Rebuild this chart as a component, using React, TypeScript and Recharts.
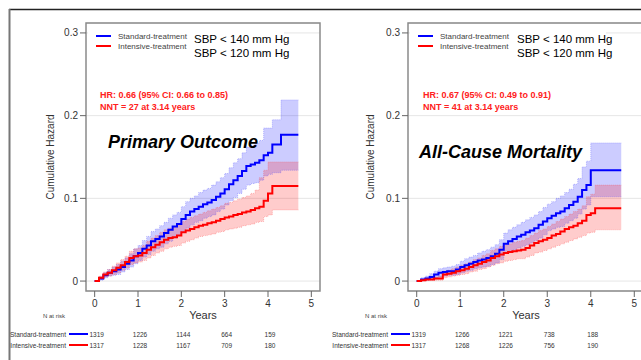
import React from "react";
import {
  Area,
  CartesianGrid,
  ComposedChart,
  Line,
  ReferenceArea,
  XAxis,
  YAxis,
} from "recharts";

const FONT = "'Liberation Sans', Arial, sans-serif";

// follow-up time grid (years)
const years = [
  0, 0.1, 0.2, 0.3, 0.4, 0.5, 0.6, 0.7, 0.8, 0.9, 1.0, 1.1, 1.2, 1.3, 1.4, 1.5,
  1.6, 1.7, 1.8, 1.9, 2.0, 2.1, 2.2, 2.3, 2.4, 2.5, 2.6, 2.7, 2.8, 2.9, 3.0, 3.1,
  3.2, 3.3, 3.4, 3.5, 3.6, 3.7, 3.8, 3.9, 4.0, 4.1, 4.2, 4.3, 4.4, 4.5, 4.6, 4.7,
];

// Primary outcome
const primaryStd = [
  0, 0.003, 0.007, 0.01, 0.012, 0.014, 0.017, 0.021, 0.025, 0.03, 0.034, 0.039,
  0.043, 0.048, 0.051, 0.054, 0.058, 0.062, 0.066, 0.069, 0.075, 0.08, 0.084,
  0.087, 0.09, 0.093, 0.095, 0.098, 0.102, 0.106, 0.111, 0.117, 0.122, 0.127,
  0.133, 0.139, 0.141, 0.143, 0.146, 0.152, 0.155, 0.165, 0.165, 0.177, 0.177,
  0.177, 0.177, 0.177,
];
const primaryStdLow = [
  0, 0.001, 0.004, 0.006, 0.007, 0.008, 0.011, 0.014, 0.017, 0.021, 0.025,
  0.029, 0.032, 0.036, 0.039, 0.041, 0.045, 0.048, 0.052, 0.055, 0.06, 0.064,
  0.068, 0.071, 0.073, 0.076, 0.078, 0.08, 0.084, 0.087, 0.092, 0.097, 0.101,
  0.106, 0.111, 0.116, 0.118, 0.119, 0.122, 0.127, 0.129, 0.131, 0.131, 0.134,
  0.134, 0.134, 0.134, 0.134,
];
const primaryStdHigh = [
  0, 0.005, 0.01, 0.014, 0.017, 0.02, 0.024, 0.028, 0.033, 0.039, 0.043, 0.049,
  0.054, 0.06, 0.063, 0.067, 0.071, 0.076, 0.08, 0.083, 0.09, 0.096, 0.1, 0.103,
  0.107, 0.11, 0.112, 0.116, 0.12, 0.125, 0.13, 0.137, 0.143, 0.148, 0.155,
  0.162, 0.164, 0.167, 0.17, 0.185, 0.185, 0.195, 0.195, 0.219, 0.219, 0.219,
  0.219, 0.219,
];
const primaryInt = [
  0, 0.004, 0.008, 0.01, 0.013, 0.016, 0.019, 0.023, 0.028, 0.03, 0.031, 0.034,
  0.038, 0.041, 0.044, 0.047, 0.05, 0.052, 0.053, 0.055, 0.059, 0.061, 0.063,
  0.065, 0.067, 0.068, 0.07, 0.071, 0.073, 0.075, 0.077, 0.078, 0.08, 0.081,
  0.083, 0.084, 0.086, 0.088, 0.09, 0.097, 0.106, 0.115, 0.115, 0.115, 0.115,
  0.115, 0.115, 0.115,
];
const primaryIntLow = [
  0, 0.002, 0.005, 0.006, 0.008, 0.01, 0.013, 0.016, 0.02, 0.022, 0.023, 0.025,
  0.028, 0.031, 0.034, 0.036, 0.039, 0.041, 0.042, 0.043, 0.046, 0.048, 0.05,
  0.052, 0.054, 0.055, 0.056, 0.057, 0.059, 0.06, 0.062, 0.063, 0.064, 0.065,
  0.067, 0.068, 0.069, 0.071, 0.072, 0.078, 0.08, 0.086, 0.086, 0.086, 0.086,
  0.086, 0.086, 0.086,
];
const primaryIntHigh = [
  0, 0.006, 0.011, 0.014, 0.018, 0.022, 0.026, 0.03, 0.036, 0.039, 0.04, 0.043,
  0.048, 0.052, 0.055, 0.059, 0.062, 0.064, 0.066, 0.068, 0.072, 0.075, 0.077,
  0.079, 0.081, 0.083, 0.085, 0.087, 0.089, 0.091, 0.094, 0.095, 0.097, 0.099,
  0.101, 0.103, 0.106, 0.11, 0.125, 0.134, 0.144, 0.144, 0.144, 0.144, 0.144,
  0.144, 0.144, 0.144,
];

// All-cause mortality
const deathStd = [
  0, 0.002, 0.003, 0.005, 0.008, 0.01, 0.011, 0.012, 0.012, 0.014, 0.017, 0.019,
  0.021, 0.023, 0.025, 0.026, 0.028, 0.03, 0.033, 0.038, 0.045, 0.048, 0.051,
  0.054, 0.056, 0.059, 0.061, 0.064, 0.068, 0.072, 0.076, 0.079, 0.082, 0.084,
  0.088, 0.092, 0.096, 0.102, 0.11, 0.116, 0.134, 0.134, 0.134, 0.134, 0.134,
  0.134, 0.134, 0.134,
];
const deathStdLow = [
  0, 0.0005, 0.001, 0.002, 0.004, 0.005, 0.006, 0.007, 0.007, 0.008, 0.01,
  0.012, 0.013, 0.015, 0.016, 0.017, 0.018, 0.02, 0.022, 0.026, 0.034, 0.036,
  0.038, 0.04, 0.042, 0.044, 0.046, 0.049, 0.052, 0.056, 0.061, 0.063, 0.065,
  0.066, 0.07, 0.073, 0.076, 0.081, 0.087, 0.092, 0.102, 0.102, 0.102, 0.102,
  0.102, 0.102, 0.102, 0.102,
];
const deathStdHigh = [
  0, 0.004, 0.006, 0.009, 0.012, 0.015, 0.016, 0.017, 0.018, 0.02, 0.024, 0.027,
  0.029, 0.031, 0.034, 0.036, 0.038, 0.041, 0.044, 0.05, 0.058, 0.062, 0.065,
  0.068, 0.071, 0.074, 0.077, 0.08, 0.084, 0.089, 0.093, 0.096, 0.1, 0.103,
  0.107, 0.111, 0.117, 0.124, 0.138, 0.145, 0.167, 0.167, 0.167, 0.167, 0.167,
  0.167, 0.167, 0.167,
];
const deathInt = [
  0, 0.001, 0.002, 0.002, 0.003, 0.003, 0.008, 0.009, 0.01, 0.012, 0.013, 0.015,
  0.017, 0.019, 0.021, 0.023, 0.025, 0.028, 0.03, 0.032, 0.034, 0.035, 0.036,
  0.037, 0.038, 0.04, 0.043, 0.046, 0.048, 0.05, 0.052, 0.055, 0.057, 0.06,
  0.063, 0.065, 0.067, 0.07, 0.073, 0.08, 0.082, 0.088, 0.088, 0.088, 0.088,
  0.088, 0.088, 0.088,
];
const deathIntLow = [
  0, 0.0003, 0.0007, 0.001, 0.001, 0.001, 0.004, 0.005, 0.006, 0.007, 0.008,
  0.009, 0.011, 0.012, 0.014, 0.015, 0.017, 0.019, 0.021, 0.022, 0.024, 0.025,
  0.026, 0.027, 0.027, 0.029, 0.031, 0.034, 0.035, 0.037, 0.039, 0.041, 0.043,
  0.045, 0.047, 0.049, 0.051, 0.053, 0.055, 0.058, 0.059, 0.062, 0.062, 0.062,
  0.062, 0.062, 0.062, 0.062,
];
const deathIntHigh = [
  0, 0.002, 0.004, 0.004, 0.005, 0.006, 0.012, 0.013, 0.015, 0.017, 0.019,
  0.021, 0.023, 0.026, 0.028, 0.031, 0.033, 0.037, 0.039, 0.042, 0.044, 0.045,
  0.047, 0.048, 0.049, 0.052, 0.055, 0.058, 0.061, 0.063, 0.066, 0.069, 0.072,
  0.075, 0.078, 0.081, 0.084, 0.087, 0.091, 0.102, 0.105, 0.116, 0.116, 0.116,
  0.116, 0.116, 0.116, 0.116,
];

// numbers at risk at years 0..4
const primaryRiskStd = [1319, 1226, 1144, 664, 159];
const primaryRiskInt = [1317, 1228, 1167, 709, 180];
const deathRiskStd = [1319, 1266, 1221, 738, 188];
const deathRiskInt = [1317, 1268, 1226, 756, 190];

const xTicks = [0, 1, 2, 3, 4, 5];
const yTicks = [0, 0.1, 0.2, 0.3];

const buildRows = (
  std: number[],
  stdLow: number[],
  stdHigh: number[],
  int: number[],
  intLow: number[],
  intHigh: number[]
) =>
  years.map((t, i) => ({
    t,
    std: std[i],
    stdLow: stdLow[i],
    stdHigh: stdHigh[i],
    stdBand: [stdLow[i], stdHigh[i]],
    int: int[i],
    intLow: intLow[i],
    intHigh: intHigh[i],
    intBand: [intLow[i], intHigh[i]],
  }));

const primaryRows = buildRows(
  primaryStd,
  primaryStdLow,
  primaryStdHigh,
  primaryInt,
  primaryIntLow,
  primaryIntHigh
);
const deathRows = buildRows(
  deathStd,
  deathStdLow,
  deathStdHigh,
  deathInt,
  deathIntLow,
  deathIntHigh
);

const RiskTick = (riskStd: number[], riskInt: number[]) => (props: any) => {
  const { x, y, payload } = props;
  const v = payload.value;
  return (
    <g fontFamily={FONT}>
      <text x={x} y={y} dy="0.71em" textAnchor="middle" fontSize={10} fill="#333">
        {v}
      </text>
      {riskStd[v] !== undefined && (
        <>
          <text x={x + 2} y={y + 34} dominantBaseline="central" textAnchor="middle" fontSize={6.5} fill="#333">
            {riskStd[v]}
          </text>
          <text x={x + 2} y={y + 45} dominantBaseline="central" textAnchor="middle" fontSize={6.5} fill="#333">
            {riskInt[v]}
          </text>
        </>
      )}
    </g>
  );
};

type PanelProps = {
  left: number;
  axisWidth: number;
  right: number;
  rows: any[];
  riskStd: number[];
  riskInt: number[];
};

const edge = { strokeWidth: 0.7, strokeDasharray: "1 1", strokeOpacity: 0.55 };

const Panel = ({ left, axisWidth, right, rows, riskStd, riskInt }: PanelProps) => (
  <div style={{ position: "absolute", left, top: 0 }}>
    <ComposedChart
      width={330}
      height={360}
      data={rows}
      margin={{ top: 23, right, bottom: 39, left: 0 }}
    >
      <CartesianGrid vertical={false} stroke="#e6e6e6" />
      <XAxis
        dataKey="t"
        type="number"
        domain={[-0.2, 5.2]}
        ticks={xTicks}
        allowDataOverflow
        axisLine={false}
        tickLine={{ stroke: "#666" }}
        tickSize={6}
        tickMargin={3}
        height={30}
        interval={0}
        tick={RiskTick(riskStd, riskInt)}
      />
      <YAxis
        type="number"
        domain={[-0.012, 0.312]}
        ticks={yTicks}
        allowDataOverflow
        axisLine={false}
        tickLine={{ stroke: "#666" }}
        tickSize={6}
        width={axisWidth}
        tick={{ fontSize: 10, fill: "#333", fontFamily: FONT }}
      />
      <Area
        dataKey="stdBand"
        type="stepAfter"
        stroke="none"
        fill="#0000ff"
        fillOpacity={0.2}
        isAnimationActive={false}
      />
      <Area
        dataKey="intBand"
        type="stepAfter"
        stroke="none"
        fill="#ff0000"
        fillOpacity={0.2}
        isAnimationActive={false}
      />
      <Line dataKey="stdLow" type="stepAfter" stroke="#5555ff" {...edge} dot={false} isAnimationActive={false} />
      <Line dataKey="stdHigh" type="stepAfter" stroke="#5555ff" {...edge} dot={false} isAnimationActive={false} />
      <Line dataKey="intLow" type="stepAfter" stroke="#ff5555" {...edge} dot={false} isAnimationActive={false} />
      <Line dataKey="intHigh" type="stepAfter" stroke="#ff5555" {...edge} dot={false} isAnimationActive={false} />
      <Line dataKey="std" type="stepAfter" stroke="#0000ff" strokeWidth={2} dot={false} isAnimationActive={false} />
      <Line dataKey="int" type="stepAfter" stroke="#ff0000" strokeWidth={2} dot={false} isAnimationActive={false} />
      <ReferenceArea
        x1={-0.2}
        x2={5.2}
        y1={-0.012}
        y2={0.312}
        fill="none"
        stroke="#8a8a8a"
        strokeWidth={1.5}
        ifOverflow="visible"
      />
    </ComposedChart>
  </div>
);

type Annot = {
  legendX: number;
  sbpX: number;
  hrX: number;
  hr: string;
  nnt: string;
  title: string;
  titleX: number;
  titleY: number;
  yLabelX: number;
  yearsX: number;
  riskX: number;
  rowEnd: number;
};

const annots: Annot[] = [
  {
    legendX: 96,
    sbpX: 194,
    hrX: 100,
    hr: "HR: 0.66 (95% CI: 0.66 to 0.85)",
    nnt: "NNT = 27 at 3.14 years",
    title: "Primary Outcome",
    titleX: 108,
    titleY: 142,
    yLabelX: 50,
    yearsX: 203,
    riskX: 54,
    rowEnd: 66,
  },
  {
    legendX: 418,
    sbpX: 517,
    hrX: 423,
    hr: "HR: 0.67 (95% CI: 0.49 to 0.91)",
    nnt: "NNT = 41 at 3.14 years",
    title: "All-Cause Mortality",
    titleX: 419,
    titleY: 152,
    yLabelX: 370,
    yearsX: 526,
    riskX: 376,
    rowEnd: 388,
  },
];

const Overlay = () => (
  <svg
    width={641}
    height={360}
    style={{ position: "absolute", left: 0, top: 0, pointerEvents: "none" }}
    fontFamily={FONT}
  >
    <line x1={9} y1={9.5} x2={641} y2={9.5} stroke="#222" strokeWidth={1.5} />
    <line x1={9.5} y1={9} x2={9.5} y2={360} stroke="#777" strokeWidth={2} />
    {annots.map((a) => (
      <g key={a.title}>
        <rect x={a.legendX - 8} y={25} width={196} height={34} fill="#fff" />
        <line x1={a.legendX} y1={36} x2={a.legendX + 15} y2={36} stroke="#0000ff" strokeWidth={2} />
        <line x1={a.legendX} y1={46} x2={a.legendX + 15} y2={46} stroke="#ff0000" strokeWidth={2} />
        <text x={a.legendX + 22} y={36} dominantBaseline="central" fontSize={8} fill="#444">
          Standard-treatment
        </text>
        <text x={a.legendX + 22} y={46} dominantBaseline="central" fontSize={8} fill="#444">
          Intensive-treatment
        </text>
        <text x={a.sbpX} y={39} dominantBaseline="central" fontSize={11.5} fill="#000">
          SBP &lt; 140 mm Hg
        </text>
        <text x={a.sbpX} y={53} dominantBaseline="central" fontSize={11.5} fill="#000">
          SBP &lt; 120 mm Hg
        </text>
        <text x={a.hrX} y={95} dominantBaseline="central" fontSize={9} fontWeight="bold" fill="#ff2020">
          {a.hr}
        </text>
        <text x={a.hrX} y={107} dominantBaseline="central" fontSize={9} fontWeight="bold" fill="#ff2020">
          {a.nnt}
        </text>
        <text
          x={a.titleX}
          y={a.titleY}
          dominantBaseline="central"
          fontSize={18}
          fontWeight="bold"
          fontStyle="italic"
          fill="#000"
        >
          {a.title}
        </text>
        <text
          transform={`translate(${a.yLabelX},157) rotate(-90)`}
          textAnchor="middle"
          dominantBaseline="central"
          fontSize={10}
          fill="#333"
        >
          Cumulative Hazard
        </text>
        <text x={a.yearsX} y={315} textAnchor="middle" dominantBaseline="central" fontSize={11} fill="#333">
          Years
        </text>
        <text x={a.riskX} y={316} textAnchor="middle" dominantBaseline="central" fontSize={6} fill="#444">
          N at risk
        </text>
        <text x={a.rowEnd} y={334} textAnchor="end" dominantBaseline="central" fontSize={6.5} fill="#333">
          Standard-treatment
        </text>
        <text x={a.rowEnd} y={345} textAnchor="end" dominantBaseline="central" fontSize={6.5} fill="#333">
          Intensive-treatment
        </text>
        <line x1={a.rowEnd + 3} y1={334} x2={a.rowEnd + 22} y2={334} stroke="#0000ff" strokeWidth={2} />
        <line x1={a.rowEnd + 3} y1={345} x2={a.rowEnd + 22} y2={345} stroke="#ff0000" strokeWidth={2} />
      </g>
    ))}
  </svg>
);

export default function App() {
  return (
    <div
      style={{
        position: "absolute",
        left: 0,
        top: 0,
        width: 641,
        height: 360,
        overflow: "hidden",
        background: "#fff",
      }}
    >
      <Panel
        left={0}
        axisWidth={86}
        right={10}
        rows={primaryRows}
        riskStd={primaryRiskStd}
        riskInt={primaryRiskInt}
      />
      <Panel
        left={320}
        axisWidth={88}
        right={7}
        rows={deathRows}
        riskStd={deathRiskStd}
        riskInt={deathRiskInt}
      />
      <Overlay />
    </div>
  );
}
